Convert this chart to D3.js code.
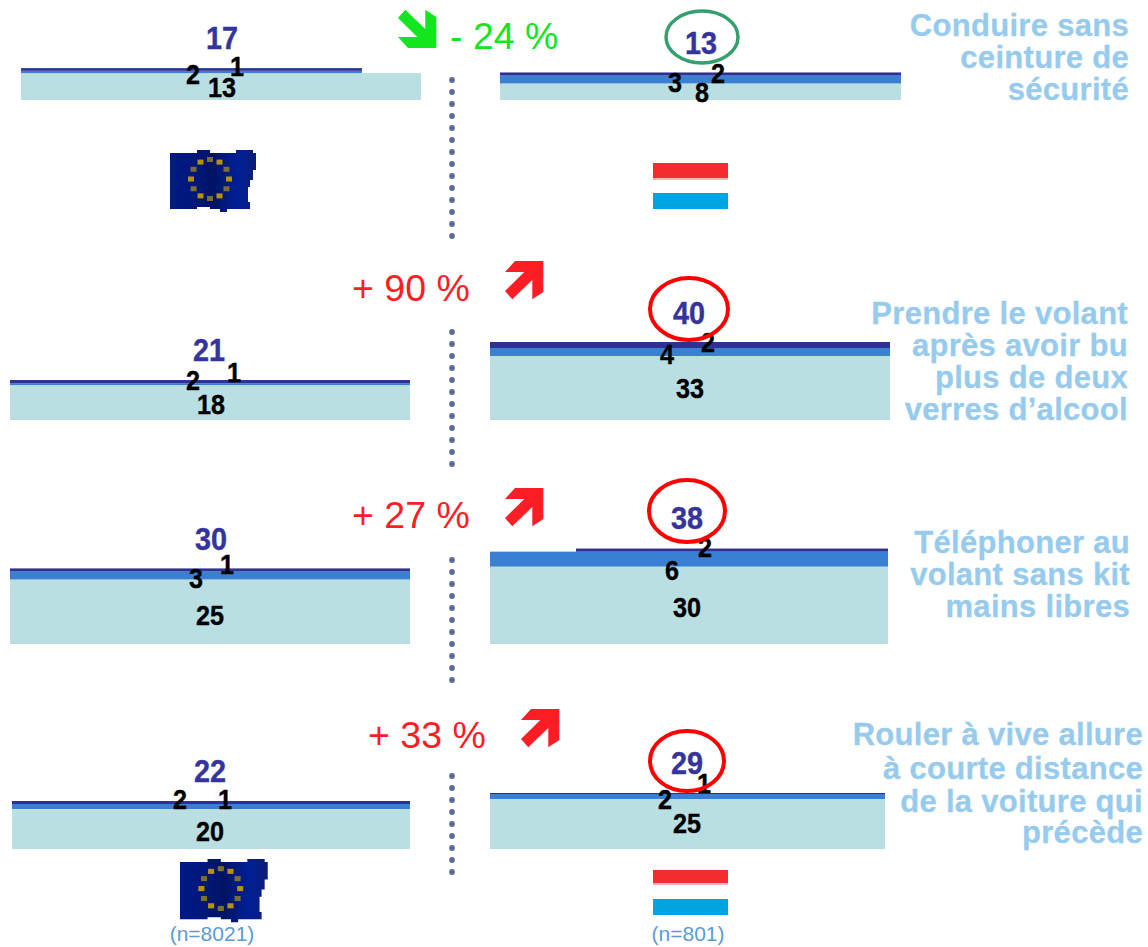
<!DOCTYPE html>
<html>
<head>
<meta charset="utf-8">
<script src="https://cdn.jsdelivr.net/npm/d3@7"></script>
<style>
  html, body { margin: 0; padding: 0; background: #fff; }
  text { font-family: "Liberation Sans", Arial, sans-serif; }
</style>
</head>
<body>
<div id="chart"></div>
<script>
// values as printed on the chart
var euTotal = [17, 21, 30, 22];
var euTop = [1, 1, 1, 1];
var euMid = [2, 2, 3, 2];
var euBase = [13, 18, 25, 20];
var luTotal = [13, 40, 38, 29];
var luTop = [2, 2, 2, 1];
var luMid = [3, 4, 6, 2];
var luBase = [8, 33, 30, 25];

// unrounded thickness of the two thin bands
var euTopDrawn = [1.3, 1.7, 1.2, 1.5];
var euMidDrawn = [1.1, 0.9, 3.1, 2.5];
var luTopDrawn = [1.5, 3.1, 1.2, 0.5];
var luMidDrawn = [3.8, 4.1, 5.8, 2.5];

var changes = ['- 24 %', '+ 90 %', '+ 27 %', '+ 33 %'];
var behaviours = [
  ['Conduire sans', 'ceinture de', 'sécurité'],
  ['Prendre le volant', 'après avoir bu', 'plus de deux', 'verres d’alcool'],
  ['Téléphoner au', 'volant sans kit', 'mains libres'],
  ['Rouler à vive allure', 'à courte distance', 'de la voiture qui', 'précède']
];
var sampleSizes = ['(n=8021)', '(n=801)'];

// layout, one entry per row
var rowBottom = [100, 420, 644, 849];
var pxPerUnit = [2.07, 1.94, 2.58, 2];
var euX = [[21, 421], [10, 410], [10, 410], [12, 410]];
var luX = [[500, 901], [490, 890], [490, 888], [490, 885]];
// the two thin bands do not always span the whole bar
var euTopX = [[21, 362], [10, 410], [10, 410], [12, 410]];
var luTopX = [[500, 901], [490, 890], [576, 888], [490, 885]];

// label anchors [x, baseline]
var euTotalPos = [[222, 49], [209, 361], [211, 550], [210, 782]];
var euTopPos = [[237, 76], [234, 382], [227, 574], [225, 809]];
var euMidPos = [[193, 84], [193, 390], [196, 588], [180, 809]];
var euBasePos = [[222, 97], [211, 414], [210, 625], [210, 841]];
var luTotalPos = [[701, 54], [689, 324], [687, 529], [687, 774]];
var luTopPos = [[718, 83], [708, 352], [705, 557], [704, 793]];
var luMidPos = [[675, 92], [667, 364], [672, 580], [665, 809]];
var luBasePos = [[702, 102], [690, 398], [687, 617], [687, 833]];

var ellipses = [[702, 37, 36, 26], [689, 309, 39, 31], [687, 511, 38, 31], [687, 761, 37, 30]];
var changePos = [[450, 49], [352, 301], [352, 528], [368, 748]];
var arrowPos = [[398, 10], [505, 261], [505, 488], [521, 709]];
var dotRows = [[80, 14], [332, 12], [560, 11], [776, 9]];
var titleRight = [1129, 1128, 1130, 1143];
var titleBase = [[36, 68, 100], [324, 356, 388, 420], [553, 585, 617], [745, 779, 812, 843]];

var colTop = '#2e3192', colMid = '#3a80d2', colBase = '#b9dfe2';
var colTotal = '#34349c', colTitle = '#97cbee', colDots = '#5c6b9f';
var colUp = '#ff1d25', colDown = '#11e61f';

var width = 1148, height = 947;

var svg = d3.select('#chart').append('svg')
  .attr('width', width)
  .attr('height', height)
  .style('display', 'block');

var defs = svg.append('defs');
var flagGrad = defs.append('linearGradient').attr('id', 'euflag');
[[0, '#001a86'], [0.25, '#00187c'], [0.5, '#001464'], [0.78, '#001f96'], [1, '#0c1d78']].forEach(function(s) {
  flagGrad.append('stop').attr('offset', s[0]).attr('stop-color', s[1]);
});

function drawPanel(i, xs, topXs, base, drawnMid, drawnTop) {
  var y = d3.scaleLinear()
    .domain([0, 1])
    .range([rowBottom[i], rowBottom[i] - pxPerUnit[i]]);

  var bands = [
    {from: 0, to: base[i], x: xs[i], fill: colBase},
    {from: base[i], to: base[i] + drawnMid[i], x: i == 2 ? xs[i] : topXs[i], fill: colMid},
    {from: base[i] + drawnMid[i], to: base[i] + drawnMid[i] + drawnTop[i], x: topXs[i], fill: colTop}
  ];

  svg.append('g').selectAll('rect')
    .data(bands)
    .enter()
    .append('rect')
    .attr('x', function(d) { return d.x[0]; })
    .attr('width', function(d) { return d.x[1] - d.x[0]; })
    .attr('y', function(d) { return y(d.to); })
    .attr('height', function(d) { return y(d.from) - y(d.to); })
    .attr('fill', function(d) { return d.fill; });
}

function number(value, pos, size, color) {
  svg.append('text')
    .attr('transform', `translate(${pos[0]},${pos[1]}) scale(0.9,1)`)
    .attr('text-anchor', 'middle')
    .attr('font-size', size)
    .attr('font-weight', 'bold')
    .attr('fill', color)
    .attr('stroke', color)
    .attr('stroke-width', 0.4)
    .text(value);
}

d3.range(4).forEach(function(i) {
  drawPanel(i, euX, euTopX, euBase, euMidDrawn, euTopDrawn);
  drawPanel(i, luX, luTopX, luBase, luMidDrawn, luTopDrawn);

  number(euTotal[i], euTotalPos[i], 32, colTotal);
  number(luTotal[i], luTotalPos[i], 32, colTotal);
  number(euTop[i], euTopPos[i], 28, '#000');
  number(euMid[i], euMidPos[i], 28, '#000');
  number(euBase[i], euBasePos[i], 28, '#000');
  number(luTop[i], luTopPos[i], 28, '#000');
  number(luMid[i], luMidPos[i], 28, '#000');
  number(luBase[i], luBasePos[i], 28, '#000');

  // the change is good when the share goes down
  var down = changes[i].charAt(0) == '-';
  var col = down ? colDown : colUp;

  svg.append('ellipse')
    .attr('cx', ellipses[i][0])
    .attr('cy', ellipses[i][1])
    .attr('rx', ellipses[i][2])
    .attr('ry', ellipses[i][3])
    .attr('fill', 'none')
    .attr('stroke', down ? '#35a06f' : '#fe0000')
    .attr('stroke-width', down ? 3.5 : 4);

  svg.append('text')
    .attr('x', changePos[i][0])
    .attr('y', changePos[i][1])
    .attr('font-size', 37.5)
    .attr('fill', col)
    .text(changes[i]);

  var arrow = 'M38.3,0V31L27.3,38.3V19L7.3,38.3L0,30L19.3,11H0L10,0Z';
  svg.append('path')
    .attr('d', arrow)
    .attr('fill', col)
    .attr('transform', down
      ? `translate(${arrowPos[i][0]},${arrowPos[i][1] + 38}) scale(1,-1)`
      : `translate(${arrowPos[i][0]},${arrowPos[i][1]})`);

  svg.append('g').selectAll('circle')
    .data(d3.range(dotRows[i][1]))
    .enter()
    .append('circle')
    .attr('cx', 452)
    .attr('cy', function(d) { return dotRows[i][0] + d * 12; })
    .attr('r', 2.9)
    .attr('fill', colDots);

  svg.append('g').selectAll('text')
    .data(behaviours[i])
    .enter()
    .append('text')
    .attr('x', titleRight[i])
    .attr('y', function(d, j) { return titleBase[i][j]; })
    .attr('text-anchor', 'end')
    .attr('font-size', 31)
    .attr('font-weight', 'bold')
    .attr('letter-spacing', 0.3)
    .attr('fill', colTitle)
    .attr('stroke', colTitle)
    .attr('stroke-width', 0.3)
    .text(function(d) { return d; });
});

function euFlag(x, y, k) {
  var g = svg.append('g').attr('transform', `translate(${x},${y}) scale(${k})`);
  g.append('path')
    .attr('d', 'M0,3H27V0H40V3H66V0H83V3H86V20H83V30H80V37H78V52H80V59H57V62H50V59H40V57H27V59H0Z')
    .attr('fill', 'url(#euflag)');
  g.append('g').selectAll('rect')
    .data(d3.range(12))
    .enter()
    .append('rect')
    .attr('x', function(d) { return 40 + 19 * Math.sin(d * Math.PI / 6) - 3; })
    .attr('y', function(d) { return 29 - 19.5 * Math.cos(d * Math.PI / 6) - 2.5; })
    .attr('width', 6)
    .attr('height', 5)
    .attr('fill', function(d) { return d % 2 ? '#b8900f' : '#7d6c35'; });
}

function luFlag(x, y, h, gap) {
  svg.append('rect').attr('x', x).attr('y', y).attr('width', 75).attr('height', h).attr('fill', '#f22c30');
  svg.append('rect').attr('x', x).attr('y', y + h).attr('width', 75).attr('height', 2).attr('fill', '#fbb4b6');
  svg.append('rect').attr('x', x).attr('y', y + gap).attr('width', 75).attr('height', 16).attr('fill', '#00a4e0');
}

euFlag(170, 150, 1);
euFlag(180, 859, 1.02);
luFlag(653, 163, 15, 30);
luFlag(653, 870, 13, 29);

svg.selectAll('.sample')
  .data(sampleSizes)
  .enter()
  .append('text')
  .attr('class', 'sample')
  .attr('x', function(d, i) { return i == 0 ? 212 : 688; })
  .attr('y', 941)
  .attr('text-anchor', 'middle')
  .attr('font-size', 21)
  .attr('fill', '#5b9bd5')
  .text(function(d) { return d; });
</script>
</body>
</html>
